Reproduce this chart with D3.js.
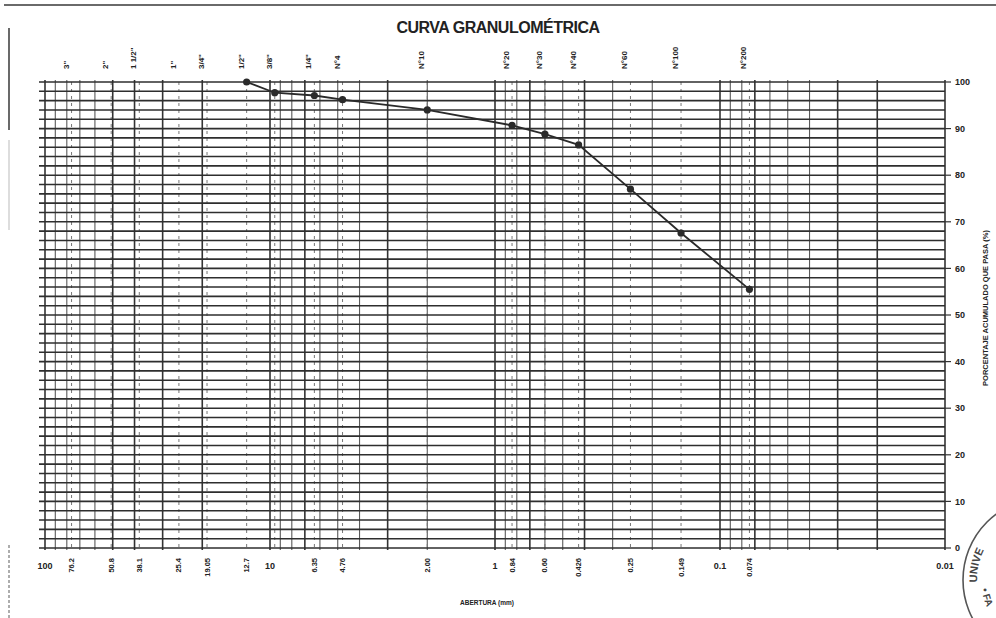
<!DOCTYPE html>
<html>
<head>
<meta charset="utf-8">
<script src="https://cdn.jsdelivr.net/npm/d3@7"></script>
<style>
  html, body { margin: 0; padding: 0; background: #fff; }
  svg text { font-family: "Liberation Sans", Arial, sans-serif; fill: #222; }
</style>
</head>
<body>
<div id="chart"></div>
<script>
// sieve series (opening in mm, % passing)
const sieveNames = ['3"', '2"', '1 1/2"', '1"', '3/4"', '1/2"', '3/8"', '1/4"', 'N°4', 'N°10', 'N°20', 'N°30', 'N°40', 'N°60', 'N°100', 'N°200'];
const sieveSizes = [76.2, 50.8, 38.1, 25.4, 19.05, 12.7, 9.525, 6.35, 4.76, 2.00, 0.84, 0.60, 0.425, 0.25, 0.149, 0.074];
const sizeLabels = ['76.2', '50.8', '38.1', '25.4', '19.05', '12.7', '', '6.35', '4.76', '2.00', '0.84', '0.60', '0.426', '0.25', '0.149', '0.074'];

const curveSizes = [12.7, 9.525, 6.35, 4.76, 2.00, 0.84, 0.60, 0.425, 0.25, 0.149, 0.074];
const curvePassing = [100.0, 97.7, 97.1, 96.2, 94.0, 90.7, 88.8, 86.5, 77.0, 67.6, 55.5];

const decadeTicks = [100, 10, 1, 0.1, 0.01];
const decadeLabels = ['100', '10', '1', '0.1', '0.01'];
const percentTicks = [0, 10, 20, 30, 40, 50, 60, 70, 80, 90, 100];

const width = 996, height = 618;
const margin = { top: 82, right: 51, bottom: 70, left: 45 };
const chartWidth = width - margin.left - margin.right;
const chartHeight = height - margin.top - margin.bottom;

const svg = d3.select('#chart')
  .append('svg')
  .attr('width', width)
  .attr('height', height);

// scanned page borders
svg.append('line').attr('x1', 4).attr('x2', width).attr('y1', 5).attr('y2', 5)
  .attr('stroke', '#6a6a6a').attr('stroke-width', 2);
svg.append('line').attr('x1', 9).attr('x2', 9).attr('y1', 28).attr('y2', 130)
  .attr('stroke', '#444').attr('stroke-width', 1.6);
svg.append('line').attr('x1', 9).attr('x2', 9).attr('y1', 140).attr('y2', 230)
  .attr('stroke', '#bbb').attr('stroke-width', 1);
svg.append('line').attr('x1', 9).attr('x2', 9).attr('y1', 545).attr('y2', 618)
  .attr('stroke', '#777').attr('stroke-width', 1.2).attr('stroke-dasharray', '3,2');

const g = svg.append('g')
  .attr('transform', `translate(${margin.left},${margin.top})`);

const xScale = d3.scaleLog()
  .domain([100, 0.01])
  .range([0, chartWidth]);

const yScale = d3.scaleLinear()
  .domain([0, 100])
  .range([chartHeight, 0]);

// log grid: 1..9 x each decade
const logGrid = [];
[10, 1, 0.1, 0.01].forEach(base => {
  for (let m = 1; m <= 9; m++) logGrid.push(+(base * m).toPrecision(3));
});
logGrid.push(100);
const heavy = new Set([100, 50, 40, 30, 20, 10, 7, 3, 1, 0.7, 0.4, 0.1, 0.07, 0.03, 0.02, 0.01]);

g.selectAll('.vgrid')
  .data(logGrid)
  .enter()
  .append('line')
  .attr('class', 'vgrid')
  .attr('x1', d => xScale(d))
  .attr('x2', d => xScale(d))
  .attr('y1', -2)
  .attr('y2', chartHeight + 2)
  .attr('stroke', d => heavy.has(d) ? '#333' : '#5a5a5a')
  .attr('stroke-width', d => heavy.has(d) ? 1.6 : 1.1);

g.selectAll('.sgrid')
  .data(sieveSizes)
  .enter()
  .append('line')
  .attr('class', 'sgrid')
  .attr('x1', d => xScale(d))
  .attr('x2', d => xScale(d))
  .attr('y1', 0)
  .attr('y2', chartHeight)
  .attr('stroke', '#777')
  .attr('stroke-width', 1)
  .attr('stroke-dasharray', '3,4');

// horizontal grid every 2 %
g.selectAll('.hgrid')
  .data(d3.range(0, 101, 2))
  .enter()
  .append('line')
  .attr('class', 'hgrid')
  .attr('x1', -6)
  .attr('x2', chartWidth)
  .attr('y1', d => yScale(d))
  .attr('y2', d => yScale(d))
  .attr('stroke', '#2e2e2e')
  .attr('stroke-width', 1.6);

// right axis
g.selectAll('.rtick')
  .data(percentTicks)
  .enter()
  .append('line')
  .attr('x1', chartWidth)
  .attr('x2', chartWidth + 6)
  .attr('y1', d => yScale(d))
  .attr('y2', d => yScale(d))
  .attr('stroke', '#333')
  .attr('stroke-width', 1.2);

g.selectAll('.rlabel')
  .data(percentTicks)
  .enter()
  .append('text')
  .attr('x', chartWidth + 10)
  .attr('y', d => yScale(d))
  .attr('dy', '0.35em')
  .attr('font-size', 9)
  .attr('font-weight', 'bold')
  .text(d => d);

g.append('text')
  .attr('transform', `translate(${chartWidth + 43},${yScale(50) - 7}) rotate(-90)`)
  .attr('text-anchor', 'middle')
  .attr('font-size', 7.5)
  .attr('font-weight', 'bold')
  .text('PORCENTAJE ACUMULADO QUE PASA (%)');

// top sieve names
g.selectAll('.topname')
  .data(sieveNames)
  .enter()
  .append('text')
  .attr('transform', (d, i) => `translate(${xScale(sieveSizes[i]) - 3},-13) rotate(-90)`)
  .attr('text-anchor', 'start')
  .attr('font-size', 8)
  .attr('font-weight', 'bold')
  .text(d => d);

// bottom decade labels
g.selectAll('.decade')
  .data(decadeTicks)
  .enter()
  .append('text')
  .attr('x', d => xScale(d))
  .attr('y', chartHeight + 21)
  .attr('text-anchor', 'middle')
  .attr('font-size', 9)
  .attr('font-weight', 'bold')
  .text((d, i) => decadeLabels[i]);

// bottom sieve openings
g.selectAll('.size')
  .data(sizeLabels)
  .enter()
  .append('text')
  .attr('transform', (d, i) => `translate(${xScale(sieveSizes[i])},${chartHeight + 10}) rotate(-90)`)
  .attr('text-anchor', 'end')
  .attr('dominant-baseline', 'central')
  .attr('font-size', 7.5)
  .attr('font-weight', 'bold')
  .text(d => d);

g.append('text')
  .attr('x', xScale(1) - 8)
  .attr('y', chartHeight + 57)
  .attr('text-anchor', 'middle')
  .attr('font-size', 6.5)
  .attr('font-weight', 'bold')
  .text('ABERTURA (mm)');

// title
svg.append('text')
  .attr('x', 498)
  .attr('y', 33)
  .attr('text-anchor', 'middle')
  .attr('font-size', 16)
  .attr('font-weight', 'bold')
  .attr('letter-spacing', -0.5)
  .text('CURVA GRANULOMÉTRICA');

// grading curve
const points = curveSizes.map((s, i) => ({ size: s, pass: curvePassing[i] }));

g.append('path')
  .datum(points)
  .attr('fill', 'none')
  .attr('stroke', '#2a2a2a')
  .attr('stroke-width', 1.8)
  .attr('d', d3.line().x(d => xScale(d.size)).y(d => yScale(d.pass)));

g.selectAll('.pt')
  .data(points)
  .enter()
  .append('circle')
  .attr('cx', d => xScale(d.size))
  .attr('cy', d => yScale(d.pass))
  .attr('r', 3.6)
  .attr('fill', '#2a2a2a');

// stamp fragment at the corner
const cx = 1045, cy = 580;
svg.append('circle')
  .attr('cx', cx).attr('cy', cy).attr('r', 82)
  .attr('fill', 'none').attr('stroke', '#555').attr('stroke-width', 1.6);
const pt = (r, a) => [cx + r * Math.cos(a * Math.PI / 180), cy + r * Math.sin(a * Math.PI / 180)];
const [ax, ay] = pt(68, 178), [bx, by] = pt(68, 300);
const [c1x, c1y] = pt(64, 172), [c2x, c2y] = pt(64, 70);
const defs = svg.append('defs');
defs.append('path').attr('id', 'stampTop')
  .attr('d', `M${ax},${ay} A68,68 0 0,1 ${bx},${by}`);
defs.append('path').attr('id', 'stampBot')
  .attr('d', `M${c1x},${c1y} A64,64 0 0,0 ${c2x},${c2y}`);
svg.append('text').attr('font-size', 11).attr('font-weight', 'bold').style('fill', '#444')
  .append('textPath').attr('href', '#stampTop').text('UNIVE');
svg.append('text').attr('font-size', 10).attr('font-weight', 'bold').style('fill', '#444')
  .append('textPath').attr('href', '#stampBot').text('• FA');
</script>
</body>
</html>
